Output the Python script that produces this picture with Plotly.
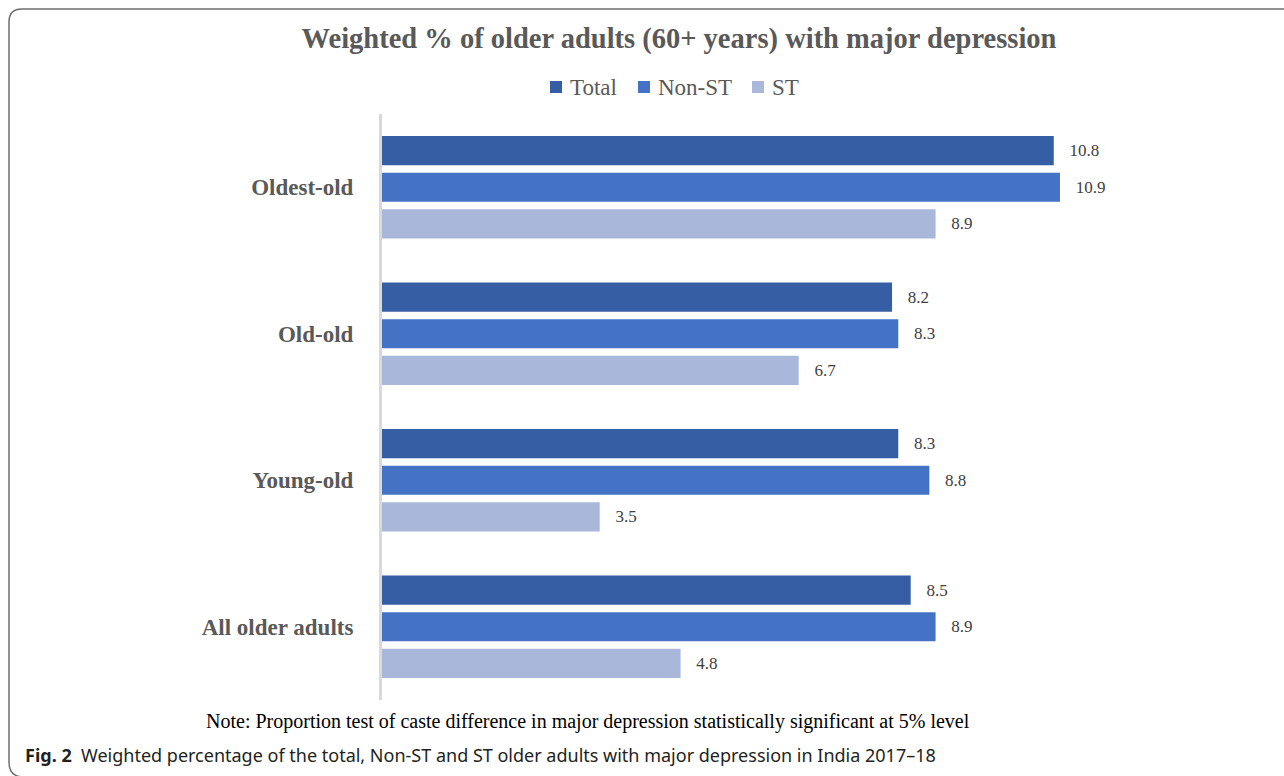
import plotly.graph_objects as go

categories = ["Oldest-old", "Old-old", "Young-old", "All older adults"]
series_names = ["Total", "Non-ST", "ST"]
total = [10.8, 8.2, 8.3, 8.5]
non_st = [10.9, 8.3, 8.8, 8.9]
st = [8.9, 6.7, 3.5, 4.8]
colors = ["#365EA5", "#4472C4", "#A9B7DA"]

W, H = 1284, 776
L, R, T, B = 382, 62, 114, 76
pw, ph = W - L - R, H - T - B

def px(x):
    return (x - L) / pw

def py(y):
    return (H - B - y) / ph

fig = go.Figure()
for name, vals, col in zip(series_names, [total, non_st, st], colors):
    fig.add_trace(go.Bar(
        y=categories, x=vals, name=name, orientation="h",
        marker=dict(color=col, line=dict(width=0)),
        texttemplate="\u00a0\u00a0\u00a0%{x:.1f}", textposition="outside",
        textfont=dict(family="Liberation Serif", size=17, color="#404040"),
        constraintext="none", cliponaxis=False, hoverinfo="skip",
        showlegend=False,
    ))

fig.update_layout(
    width=W, height=H,
    margin=dict(l=L, r=R, t=T, b=B, autoexpand=False),
    paper_bgcolor="white", plot_bgcolor="white",
    barmode="group", bargap=0.25, bargroupgap=0.205,
    title=dict(text="<b>Weighted % of older adults (60+ years) with major depression</b>",
               x=679 / W, xanchor="center", xref="container",
               y=1 - 38 / H, yanchor="middle", yref="container",
               font=dict(family="Liberation Serif", size=28.5, color="#595959")),
    showlegend=False,
    xaxis=dict(range=[0, pw / 62.2], showgrid=False, showticklabels=False,
               zeroline=False, showline=False, ticks=""),
    yaxis=dict(autorange="reversed", showgrid=False, zeroline=False,
               showline=True, linecolor="#D9D9D9", linewidth=3,
               ticks="", ticklabelstandoff=21,
               tickvals=categories, ticktext=["<b>%s</b>" % c for c in categories],
               tickfont=dict(family="Liberation Serif", size=23, color="#595959")),
    font=dict(family="Liberation Serif"),
)

# manual legend (matches reference spacing)
legend_sq_left = [550, 638, 752]
for name, col, x0 in zip(series_names, colors, legend_sq_left):
    fig.add_shape(type="rect", xref="paper", yref="paper",
                  x0=px(x0), x1=px(x0 + 12), y0=py(93), y1=py(81),
                  fillcolor=col, line=dict(width=0))
    fig.add_annotation(text=name, x=px(x0 + 18), y=py(87), xref="paper", yref="paper",
                       showarrow=False, xanchor="left", yanchor="middle",
                       font=dict(family="Liberation Serif", size=23, color="#595959"))

# frame
path = (f"M {px(1300)},{py(9)} L {px(22)},{py(9)} Q {px(9)},{py(9)} {px(9)},{py(22)} "
        f"L {px(9)},{py(762)} Q {px(9)},{py(777)} {px(24)},{py(777)} L {px(1300)},{py(777)}")
fig.add_shape(type="path", path=path, xref="paper", yref="paper",
              line=dict(color="#6E6E6E", width=1.5))

fig.add_annotation(text="Note: Proportion test of caste difference in major depression statistically significant at 5% level",
                   x=px(588), y=py(722), xref="paper", yref="paper", showarrow=False,
                   xanchor="center", yanchor="middle",
                   font=dict(family="Liberation Serif", size=20, color="#000000"))
fig.add_annotation(text="<b>Fig. 2</b>  Weighted percentage of the total, Non-ST and ST older adults with major depression in India 2017–18",
                   x=px(23), y=py(755), xref="paper", yref="paper", showarrow=False,
                   xanchor="left", yanchor="middle",
                   font=dict(family="Noto Sans", size=18, color="#231F20"))

fig.write_html("out.html")
